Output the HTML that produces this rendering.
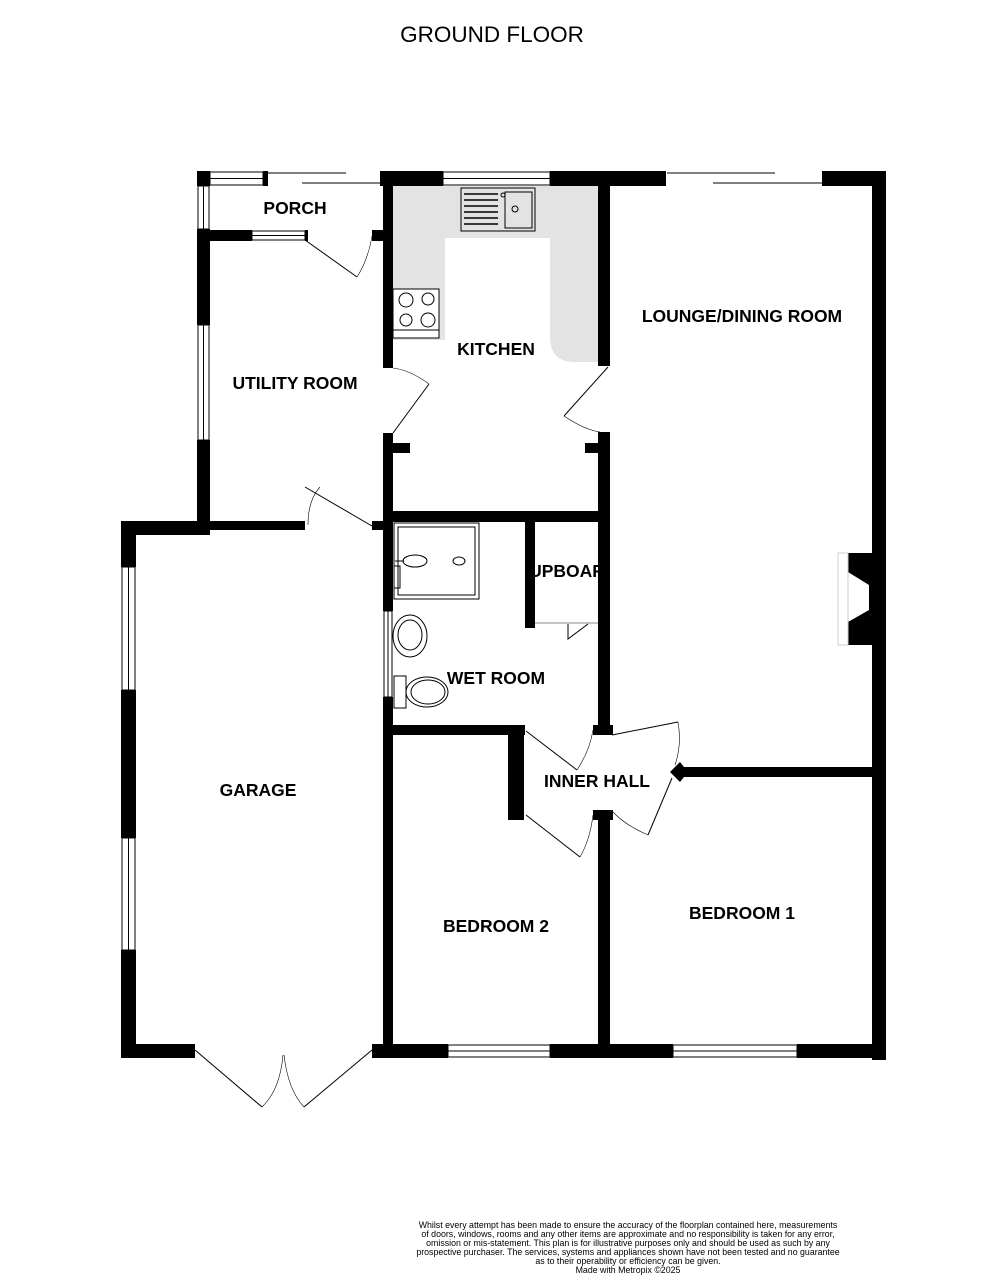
<!DOCTYPE html>
<html><head><meta charset="utf-8"><style>
body{margin:0;background:#fff}
svg{display:block}
.l{font-family:"Liberation Sans",sans-serif;font-weight:bold;font-size:17.5px;text-anchor:middle}
.d{font-family:"Liberation Sans",sans-serif;font-size:8.8px;text-anchor:middle}
</style></head><body>
<svg width="1007" height="1280" viewBox="0 0 1007 1280" xmlns="http://www.w3.org/2000/svg">
<text x="492" y="42" font-family="Liberation Sans,sans-serif" font-size="22.5" text-anchor="middle">GROUND FLOOR</text>
<path d="M393 186 H598 V362 H575 Q550 362 550 337 V238 H445 V340 H393 Z" fill="#e3e3e3"/>
<g fill="#000">
<rect x="197" y="171" width="13" height="15"/>
<rect x="263" y="171" width="5" height="15"/>
<rect x="380" y="171" width="63" height="15"/>
<rect x="550" y="171" width="116" height="15"/>
<rect x="822" y="171" width="64" height="15"/>
<rect x="872" y="171" width="14" height="889"/>
<rect x="197" y="229" width="13" height="96"/>
<rect x="197" y="440" width="13" height="95"/>
<rect x="197" y="230" width="55" height="11"/>
<rect x="305" y="230" width="3" height="11"/>
<rect x="372" y="230" width="11" height="11"/>
<rect x="383" y="186" width="10" height="182"/>
<rect x="383" y="433" width="10" height="625"/>
<rect x="393" y="443" width="17" height="10"/>
<rect x="598" y="186" width="12" height="180"/>
<rect x="598" y="432" width="12" height="303"/>
<rect x="585" y="443" width="13" height="10"/>
<rect x="383" y="511" width="227" height="11"/>
<rect x="121" y="521" width="89" height="14"/>
<rect x="210" y="521" width="95" height="9"/>
<rect x="372" y="521" width="11" height="9"/>
<rect x="121" y="521" width="15" height="46"/>
<rect x="121" y="690" width="15" height="148"/>
<rect x="121" y="950" width="15" height="108"/>
<rect x="121" y="1044" width="74" height="14"/>
<rect x="372" y="1044" width="76" height="14"/>
<rect x="550" y="1044" width="123" height="14"/>
<rect x="797" y="1044" width="89" height="14"/>
<rect x="525" y="522" width="10" height="106"/>
<rect x="383" y="725" width="142" height="10"/>
<rect x="508" y="730" width="16" height="90"/>
<rect x="593" y="725" width="20" height="10"/>
<rect x="593" y="810" width="20" height="10"/>
<rect x="598" y="812" width="12" height="246"/>
<rect x="680" y="767" width="206" height="10"/>
<path d="M670 772 L680 762 L688 772 L680 782 Z"/>
<path d="M848 553 H872 V645 H848 V622 L869 610 V585 L848 572 Z"/>
</g>
<rect x="383" y="611" width="10" height="86" fill="#fff"/>
<g fill="none" stroke="#000" stroke-width="1">
<rect x="210" y="172" width="53" height="13"/><line x1="210" y1="178.5" x2="263" y2="178.5"/>
<rect x="443" y="172" width="107" height="13"/><line x1="443" y1="178.5" x2="550" y2="178.5"/>
<rect x="198" y="186" width="11" height="43"/><line x1="203.5" y1="186" x2="203.5" y2="229"/>
<rect x="198" y="325" width="11" height="115"/><line x1="203.5" y1="325" x2="203.5" y2="440"/>
<rect x="252" y="231" width="53" height="9"/><line x1="252" y1="235.5" x2="305" y2="235.5"/>
<rect x="122" y="567" width="13" height="123"/><line x1="128.5" y1="567" x2="128.5" y2="690"/>
<rect x="122" y="838" width="13" height="112"/><line x1="128.5" y1="838" x2="128.5" y2="950"/>
<rect x="384" y="611" width="8" height="86"/><line x1="388" y1="611" x2="388" y2="697"/>
<rect x="448" y="1045" width="102" height="12"/><line x1="448" y1="1051" x2="550" y2="1051"/>
<rect x="673" y="1045" width="124" height="12"/><line x1="673" y1="1051" x2="797" y2="1051"/>
<rect x="838" y="553" width="10" height="92" stroke="#ccc"/>
<line x1="268" y1="173" x2="346" y2="173"/><line x1="302" y1="183" x2="380" y2="183"/>
<line x1="667" y1="173" x2="775" y2="173"/><line x1="713" y1="183" x2="822" y2="183"/>
<line x1="305" y1="240" x2="357" y2="277"/><path d="M357 277 Q368 260 372 236" stroke-width=".6"/>
<line x1="393" y1="433" x2="429" y2="384"/><path d="M429 384 Q410 370 393 368" stroke-width=".6"/>
<line x1="608" y1="367" x2="564" y2="416"/><path d="M564 416 Q585 430 600 432" stroke-width=".6"/>
<line x1="305" y1="487" x2="372" y2="526"/><path d="M308 525 Q308 500 320 487" stroke-width=".6"/>
<line x1="195" y1="1050" x2="262" y2="1107"/><path d="M262 1107 Q280 1090 283 1055" stroke-width=".6"/>
<line x1="372" y1="1050" x2="304" y2="1107"/><path d="M304 1107 Q288 1090 284 1055" stroke-width=".6"/>
<line x1="526" y1="731" x2="577" y2="770"/><path d="M577 770 Q590 750 593 730" stroke-width=".6"/>
<line x1="526" y1="815" x2="580" y2="857"/><path d="M580 857 Q590 840 593 815" stroke-width=".6"/>
<line x1="612" y1="735" x2="678" y2="722"/><path d="M678 722 Q682 745 675 765" stroke-width=".6"/>
<line x1="672" y1="778" x2="648" y2="835"/><path d="M648 835 Q625 825 613 812" stroke-width=".6"/>
<line x1="535" y1="623" x2="598" y2="623" stroke="#888"/><path d="M588 624 L568 639 V624"/>
<rect x="461" y="188" width="74" height="43"/><rect x="505" y="192" width="27" height="36"/>
<g stroke-width="1.5"><line x1="464" y1="194" x2="498" y2="194"/><line x1="464" y1="200" x2="498" y2="200"/><line x1="464" y1="206" x2="498" y2="206"/><line x1="464" y1="212" x2="498" y2="212"/><line x1="464" y1="218" x2="498" y2="218"/><line x1="464" y1="224" x2="498" y2="224"/></g>
<circle cx="515" cy="209" r="3"/><circle cx="503" cy="195" r="2"/>
<rect x="393" y="289" width="46" height="49" fill="#fff"/>
<circle cx="406" cy="300" r="7"/><circle cx="428" cy="299" r="6"/><circle cx="406" cy="320" r="6"/><circle cx="428" cy="320" r="7"/>
<line x1="393" y1="330" x2="439" y2="330"/>
<rect x="394" y="523" width="85" height="76"/><rect x="398" y="527" width="77" height="68"/>
<ellipse cx="415" cy="561" rx="12" ry="6"/><ellipse cx="459" cy="561" rx="6" ry="4"/>
<line x1="395" y1="561" x2="404" y2="561"/><rect x="394" y="566" width="6" height="22"/>
<ellipse cx="410" cy="636" rx="17" ry="21"/><ellipse cx="410" cy="635" rx="12" ry="15"/>
<rect x="394" y="676" width="12" height="32"/><ellipse cx="427" cy="692" rx="21" ry="15"/><ellipse cx="428" cy="692" rx="17" ry="12"/>
</g>
<text class="l" x="295" y="214">PORCH</text>
<text class="l" x="496" y="355">KITCHEN</text>
<text class="l" x="295" y="389">UTILITY ROOM</text>
<text class="l" x="742" y="322">LOUNGE/DINING ROOM</text>
<text class="l" x="567" y="577" font-size="15.5">UPBOAR</text>
<text class="l" x="496" y="684">WET ROOM</text>
<text class="l" x="597" y="787">INNER HALL</text>
<text class="l" x="258" y="796">GARAGE</text>
<text class="l" x="742" y="919">BEDROOM 1</text>
<text class="l" x="496" y="932">BEDROOM 2</text>
<text class="d" x="628" y="1228">Whilst every attempt has been made to ensure the accuracy of the floorplan contained here, measurements</text>
<text class="d" x="628" y="1237">of doors, windows, rooms and any other items are approximate and no responsibility is taken for any error,</text>
<text class="d" x="628" y="1246">omission or mis-statement. This plan is for illustrative purposes only and should be used as such by any</text>
<text class="d" x="628" y="1255">prospective purchaser. The services, systems and appliances shown have not been tested and no guarantee</text>
<text class="d" x="628" y="1264">as to their operability or efficiency can be given.</text>
<text class="d" x="628" y="1273">Made with Metropix ©2025</text>
</svg>
</body></html>
